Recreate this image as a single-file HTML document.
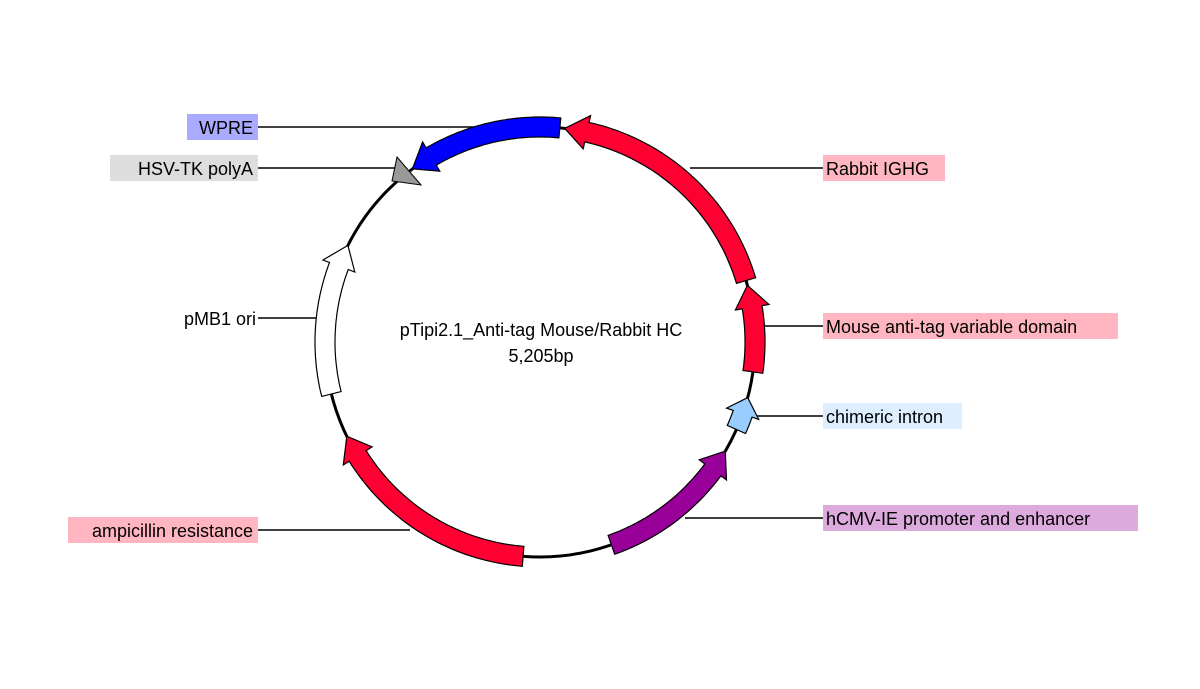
<!DOCTYPE html>
<html><head><meta charset="utf-8"><style>
html,body{margin:0;padding:0;background:#fff;width:1200px;height:689px;overflow:hidden}
svg{display:block}
text{font-family:"Liberation Sans",Arial,sans-serif;font-size:18px;fill:#000}
</style></head><body>
<svg id="s" width="1200" height="689" viewBox="0 0 1200 689" xmlns="http://www.w3.org/2000/svg">
<rect width="1200" height="689" fill="#fff"/>
<circle cx="540" cy="342" r="215" fill="none" stroke="#000" stroke-width="3"/>
<!-- connector lines -->
<g stroke="#000" stroke-width="1.5">
<line x1="258" y1="127" x2="500" y2="127"/>
<line x1="258" y1="168" x2="402" y2="168"/>
<line x1="258" y1="318" x2="318" y2="318"/>
<line x1="258" y1="530" x2="410" y2="530"/>
<line x1="690" y1="168" x2="823" y2="168"/>
<line x1="765" y1="326" x2="823" y2="326"/>
<line x1="755" y1="416" x2="823" y2="416"/>
<line x1="685" y1="518" x2="823" y2="518"/>
</g>
<g id="feat"></g>
<polygon points="397,157 392,181 421,185" fill="#999" stroke="#000" stroke-width="1"/>
<!-- labels -->
<rect x="187" y="114" width="71" height="26" fill="#aaaaff"/>
<text x="253" y="134" text-anchor="end">WPRE</text>
<rect x="110" y="155" width="148" height="26" fill="#dddddd"/>
<text x="253" y="175" text-anchor="end">HSV-TK polyA</text>
<text x="256" y="325" text-anchor="end">pMB1 ori</text>
<rect x="68" y="517" width="190" height="26" fill="#ffb6c1"/>
<text x="253" y="537" text-anchor="end">ampicillin resistance</text>
<rect x="823" y="155" width="122" height="26" fill="#ffb6c1"/>
<text x="826" y="175">Rabbit IGHG</text>
<rect x="823" y="313" width="295" height="26" fill="#ffb6c1"/>
<text x="826" y="333">Mouse anti-tag variable domain</text>
<rect x="823" y="403" width="139" height="26" fill="#ddeeff"/>
<text x="826" y="423">chimeric intron</text>
<rect x="823" y="505" width="315" height="26" fill="#ddaadd"/>
<text x="826" y="525">hCMV-IE promoter and enhancer</text>
<text x="541" y="336" text-anchor="middle">pTipi2.1_Anti-tag Mouse/Rabbit HC</text>
<text x="541" y="362" text-anchor="middle">5,205bp</text>
</svg>
<script>
(function(){
var cx=540,cy=342;
function P(a,r){var t=a*Math.PI/180;return [(cx+r*Math.sin(t)).toFixed(1),(cy-r*Math.cos(t)).toFixed(1)].join(',');}
function arrow(tail,tip,color,hl){
  hl=hl||6;
  var d=tip>tail?1:-1;
  var hb=tip-d*hl;
  var ri=205,ro=225,hi=198,ho=232;
  var pts=[];
  var n=40,i;
  for(i=0;i<=n;i++){pts.push(P(tail+(hb-tail)*i/n,ro));}
  pts.push(P(hb,ho));pts.push(P(tip,215));pts.push(P(hb,hi));
  for(i=n;i>=0;i--){pts.push(P(tail+(hb-tail)*i/n,ri));}
  var g=document.getElementById('feat');
  var p=document.createElementNS('http://www.w3.org/2000/svg','polygon');
  p.setAttribute('points',pts.join(' '));
  p.setAttribute('fill',color);p.setAttribute('stroke','#000');p.setAttribute('stroke-width','1.2');
  g.appendChild(p);
}
arrow(5.3,-36.4,'#0000ff');
arrow(73.4,6.6,'#ff0033');
arrow(98,74.7,'#ff0033');
arrow(114,105,'#99ccff',4.5);
arrow(160.6,120.5,'#990099');
arrow(184.5,244,'#ff0033');
arrow(256,296.7,'#ffffff');
})();
</script>
</body></html>
